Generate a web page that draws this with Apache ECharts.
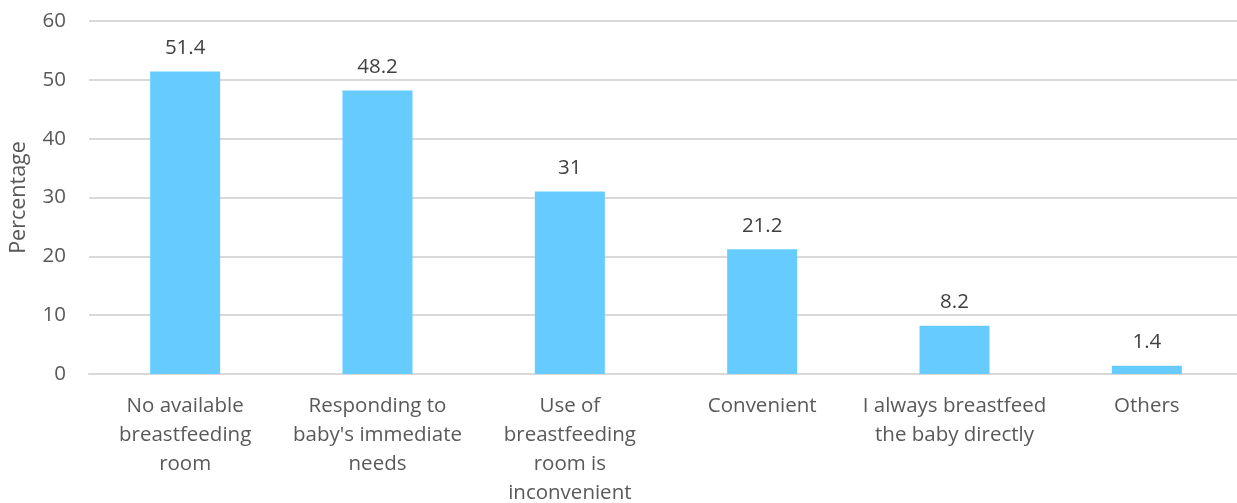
<!DOCTYPE html>
<html>
<head>
<meta charset="utf-8">
<script src="https://cdn.jsdelivr.net/npm/echarts@6/dist/echarts.min.js"></script>
<style>
  html, body { margin: 0; padding: 0; background: #ffffff; }
  #chart { width: 1237px; height: 503px; }
</style>
</head>
<body>
<div id="chart"></div>
<script>
// Reasons for expressing breast milk rather than feeding directly
const categories = [
  'No available\nbreastfeeding\nroom',
  "Responding to\nbaby's immediate\nneeds",
  'Use of\nbreastfeeding\nroom is\ninconvenient',
  'Convenient',
  'I always breastfeed\nthe baby directly',
  'Others'
];
const percentages = [51.4, 48.2, 31, 21.2, 8.2, 1.4];
const yTicks = { min: 0, max: 60, step: 10 };

const FONT = 'Open Sans';
const chart = echarts.init(document.getElementById('chart'), null, { renderer: 'canvas' });

chart.setOption({
  animation: false,
  backgroundColor: '#ffffff',
  grid: {
    left: 89, top: 21, bottom: 129, width: 1154,
    containLabel: false,
    outerBoundsMode: 'none'
  },
  xAxis: {
    type: 'category',
    data: categories,
    axisLine: { show: true, lineStyle: { color: '#D9D9D9', width: 2 } },
    axisTick: { show: false },
    axisLabel: {
      interval: 0,
      margin: 18,
      color: '#595959',
      fontFamily: FONT,
      fontSize: 20.5,
      lineHeight: 29
    }
  },
  yAxis: {
    type: 'value',
    min: yTicks.min,
    max: yTicks.max,
    interval: yTicks.step,
    name: 'Percentage',
    nameLocation: 'middle',
    nameGap: 59,
    nameTextStyle: { color: '#595959', fontFamily: FONT, fontSize: 21.5 },
    axisLine: { show: false },
    axisTick: { show: false },
    axisLabel: { margin: 23, color: '#595959', fontFamily: FONT, fontSize: 20.5 },
    splitLine: { lineStyle: { color: '#D9D9D9', width: 2 } }
  },
  series: [{
    type: 'bar',
    data: percentages,
    barWidth: 70,
    itemStyle: { color: '#66CCFF' },
    label: {
      show: true,
      position: 'top',
      distance: 13,
      color: '#404040',
      fontFamily: FONT,
      fontSize: 20.5
    }
  }]
});
</script>
</body>
</html>
